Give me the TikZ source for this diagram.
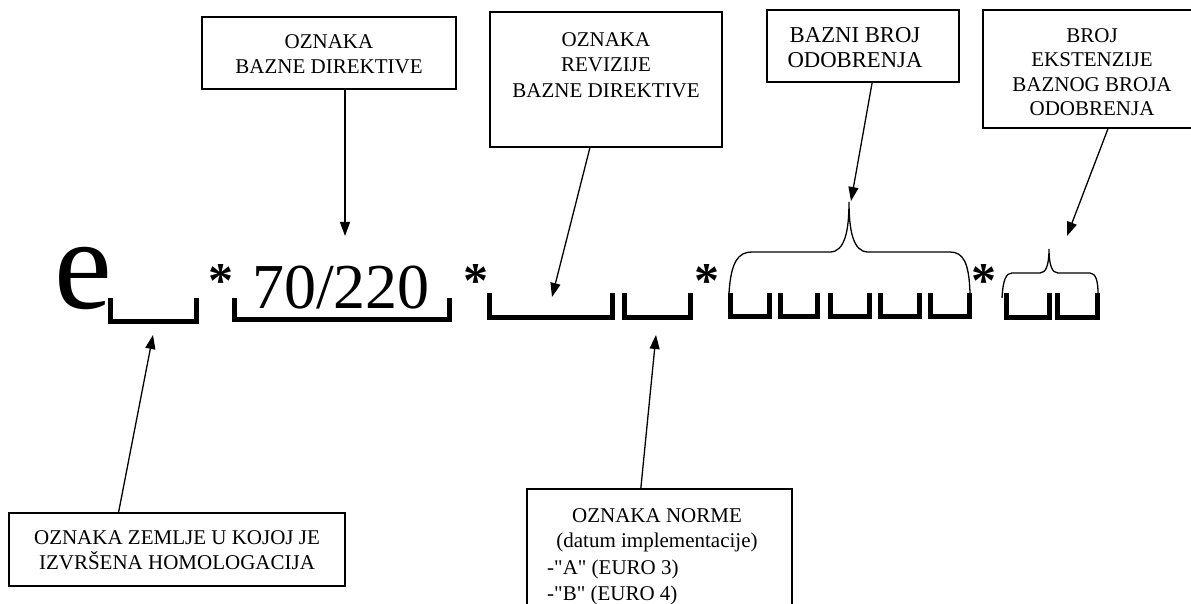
\documentclass[tikz,border=0pt]{standalone}
\usepackage{fontspec}
\setmainfont{Liberation Serif}
\newfontfamily\qfont{Liberation Serif}[Ligatures=TeXOff]
\usetikzlibrary{arrows.meta,calc}
\tikzset{
  boxnode/.style={draw,line width=1.6pt,inner sep=0pt,minimum width=#1},
  lbl/.style={inner sep=0pt,align=center,font=\fontsize{21}{25.5}\selectfont},
  lbll/.style={inner sep=0pt,align=left,font=\fontsize{21}{25.5}\selectfont\qfont},
  pointer/.style={line width=1.3pt,-{Triangle[length=14pt,width=10pt]}},
  slot/.style={line width=5pt,line join=miter,line cap=butt},
  bracegroup/.style={line width=1.3pt},
  star/.style={inner sep=0pt,anchor=base,font=\fontsize{50}{50}\selectfont\bfseries}
}
\begin{document}
\begin{tikzpicture}[x=1pt,y=-1pt]
\useasboundingbox (0,0) rectangle (1191,604);
\clip (0,0) rectangle (1191,604);
% boxes
\node[boxnode=254pt,minimum height=72pt] (box1) at (329,53) {};
\node[lbl,anchor=north] (t1) at (329,34) {OZNAKA\\BAZNE DIREKTIVE};
\node[boxnode=232pt,minimum height=135pt] (box2) at (606,79.5) {};
\node[lbl,anchor=north] (t2) at (606,32) {OZNAKA\\REVIZIJE\\BAZNE DIREKTIVE};
\node[boxnode=192pt,minimum height=72pt] (box3) at (863,46) {};
\node[lbl,anchor=north,font=\fontsize{22.7}{25}\selectfont] (t3) at (855,27) {BAZNI BROJ\\ODOBRENJA};
\node[boxnode=230pt,minimum height=118pt] (box4) at (1098,69) {};
\node[lbl,anchor=north,font=\fontsize{21}{24.5}\selectfont] (t4) at (1092,28) {BROJ\\EKSTENZIJE\\BAZNOG BROJA\\ODOBRENJA};
\node[boxnode=336pt,minimum height=73pt] (box5) at (177,549.5) {};
\node[lbl,anchor=north] (t5) at (177,530) {OZNAKA ZEMLJE U KOJOJ JE\\IZVRŠENA HOMOLOGACIJA};
\node[boxnode=265pt,minimum height=125pt] (box6) at (659.5,551.5) {};
\node[lbl,anchor=north] (t6) at (657,508) {OZNAKA NORME\\(datum implementacije)};
\node[lbll,anchor=north west] (t6b) at (547,560) {-"A" (EURO 3)\\-"B" (EURO 4)};
% main line
\node[inner sep=0pt,anchor=base west,font=\fontsize{130}{130}\selectfont] (e) at (54,308) {e};
\node[inner sep=0pt,anchor=base west,font=\fontsize{64}{64}\selectfont] (num) at (252,308) {70/220};
\node[star] (s1) at (221,297) {*};
\node[star] (s2) at (476,297) {*};
\node[star] (s3) at (707,297) {*};
\node[star] (s4) at (984,297) {*};
% slots
\draw[slot] (110.5,298) -- (110.5,321.5) -- (196.5,321.5) -- (196.5,298);
\draw[slot] (234.5,298) -- (234.5,319.5) -- (449.5,319.5) -- (449.5,298);
\draw[slot] (489.5,293) -- (489.5,317.5) -- (612.5,317.5) -- (612.5,293);
\draw[slot] (624.5,293) -- (624.5,317.5) -- (690.5,317.5) -- (690.5,293);
\foreach \a/\b in {728/772,778/820,828/872,878/922,928/972}
  \draw[slot] (\a+2.5,293) -- (\a+2.5,316.5) -- (\b-2.5,316.5) -- (\b-2.5,293);
\foreach \a/\b in {1004/1052,1055/1100}
  \draw[slot] (\a+2.5,293) -- (\a+2.5,317.5) -- (\b-2.5,317.5) -- (\b-2.5,293);
% braces
\draw[bracegroup] (729,293) .. controls (731,262) and (738,252) .. (752,252) -- (830,252)
  .. controls (845,252) and (849,230) .. (849,202)
  .. controls (849,230) and (853,252) .. (868,252) -- (950,252)
  .. controls (963,252) and (969,262) .. (970,293);
\draw[bracegroup] (1002,298) .. controls (1003,280) and (1006,273) .. (1012,273) -- (1040,273)
  .. controls (1046,273) and (1049,265) .. (1049,249)
  .. controls (1049,265) and (1052,273) .. (1058,273) -- (1090,273)
  .. controls (1096,273) and (1098,282) .. (1098,293);
% arrow tips
\coordinate (tip1) at (345,236);
\coordinate (tip2) at (552,297);
\coordinate (tip3) at (851,201);
\coordinate (tip4) at (1067,236);
\coordinate (tip5) at (153,335);
\coordinate (tip6) at (656,335);
% pointers
\draw[pointer] (box1.south -| tip1) -- (tip1);
\draw[pointer] ($(box2.south west)!0.431!(box2.south east)$) -- (tip2);
\draw[pointer] ($(box3.south west)!0.547!(box3.south east)$) -- (tip3);
\draw[pointer] ($(box4.south west)!0.543!(box4.south east)$) -- (tip4);
\draw[pointer] ($(box5.north west)!0.327!(box5.north east)$) -- (tip5);
\draw[pointer] ($(box6.north west)!0.43!(box6.north east)$) -- (tip6);
\end{tikzpicture}
\end{document}
